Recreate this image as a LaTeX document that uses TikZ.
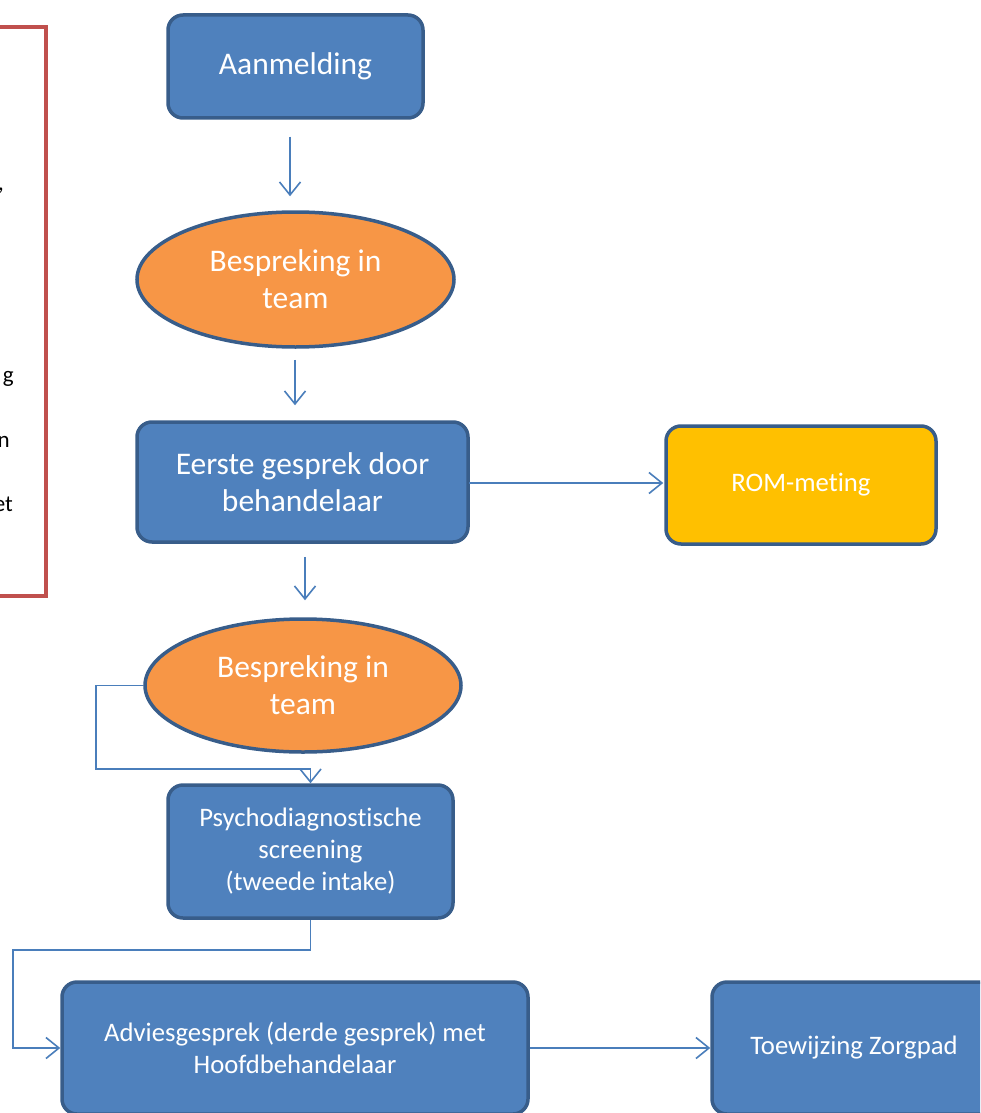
\documentclass[tikz,border=0pt]{standalone}
\usepackage{fontspec}
\setmainfont{Carlito}[Ligatures={NoCommon}]
\usetikzlibrary{shapes.geometric,arrows.meta}
\definecolor{boxblue}{HTML}{4F81BD}
\definecolor{edgeblue}{HTML}{385D8A}
\definecolor{orangefill}{HTML}{F79646}
\definecolor{romyellow}{HTML}{FFC000}
\definecolor{linkblue}{HTML}{4A7EBB}
\definecolor{framered}{HTML}{C0504D}
\tikzset{
  base/.style={draw=edgeblue, line width=3.5pt, text=white, align=center, inner sep=0pt},
  bluebox/.style={base, fill=boxblue, rectangle, rounded corners=15pt},
  yellowbox/.style={base, fill=romyellow, rectangle, rounded corners=15pt},
  oval/.style={base, fill=orangefill, ellipse},
  bigtext/.style={font=\fontsize{31.5}{37}\selectfont},
  smalltext/.style={font=\fontsize{26.7}{32}\selectfont},
  arr/.style={draw=linkblue, line width=1.8pt, -{Straight Barb[length=13pt,width=21pt,line width=1.6pt]}},
  frag/.style={anchor=base east, inner sep=0pt, font=\fontsize{23}{26}\selectfont, text=black}
}
\begin{document}
\begin{tikzpicture}[x=1pt,y=-1pt]
\useasboundingbox (0,0) rectangle (980,1113);
\clip (0,0) rectangle (980,1113);
\fill[white] (0,0) rectangle (980,1113);
% red frame (cut off at left)
\draw[framered, line width=4pt] (-10,27) -- (45.5,27) -- (45.5,596) -- (-10,596);
\node[frag] (f1) at (4,190) {,};
\node[frag] (f2) at (14,382) {g};
\node[frag] (f3) at (10,447) {n};
\node[frag] (f4) at (13,511) {et};
% nodes
\node[bluebox, bigtext, minimum width=255pt, minimum height=103pt] (a) at (295.5,66.5) {Aanmelding};
\node[oval, bigtext, minimum width=317pt, minimum height=135pt] (b) at (295.5,279.5) {Bespreking in\\team};
\node[bluebox, bigtext, minimum width=331pt, minimum height=120pt] (c) at (302.5,482) {Eerste gesprek door\\behandelaar};
\node[yellowbox, smalltext, minimum width=270pt, minimum height=118pt] (d) at (801,485) {ROM-meting};
\node[oval, bigtext, minimum width=316pt, minimum height=133pt] (e) at (303,685.5) {Bespreking in\\team};
\node[bluebox, smalltext, minimum width=285pt, minimum height=133pt] (f) at (310.5,851.5) {Psychodiagnostische\\screening\\(tweede intake)};
\node[bluebox, smalltext, minimum width=466pt, minimum height=132pt] (g) at (295,1048) {Adviesgesprek (derde gesprek) met\\Hoofdbehandelaar};
\node[bluebox, smalltext, minimum width=284pt, minimum height=132pt] (h) at (854,1048) {Toewijzing Zorgpad};
% connectors
\draw[arr, shorten <=17pt, shorten >=14pt] ([xshift=-5.5pt]a.south) -- ([xshift=-5.5pt]b.north);
\draw[arr, shorten <=11pt, shorten >=15pt] ([xshift=-0.5pt]b.south) -- ([xshift=-7.5pt]c.north);
\draw[arr] ([xshift=-1pt,yshift=-1pt]c.east) -- ([xshift=-1pt,yshift=2pt]d.west);
\draw[arr, shorten <=13pt, shorten >=17pt] ([xshift=2.5pt]c.south) -- ([xshift=2pt]e.north);
\coordinate (loopc) at (96,769);
\draw[arr] (e.west) -| (loopc) -| (f.north);
\coordinate (bendA) at (13,950);
\draw[arr] (f.south) |- (bendA) |- (g.west);
\draw[arr] (g.east) -- (h.west);
\end{tikzpicture}
\end{document}
